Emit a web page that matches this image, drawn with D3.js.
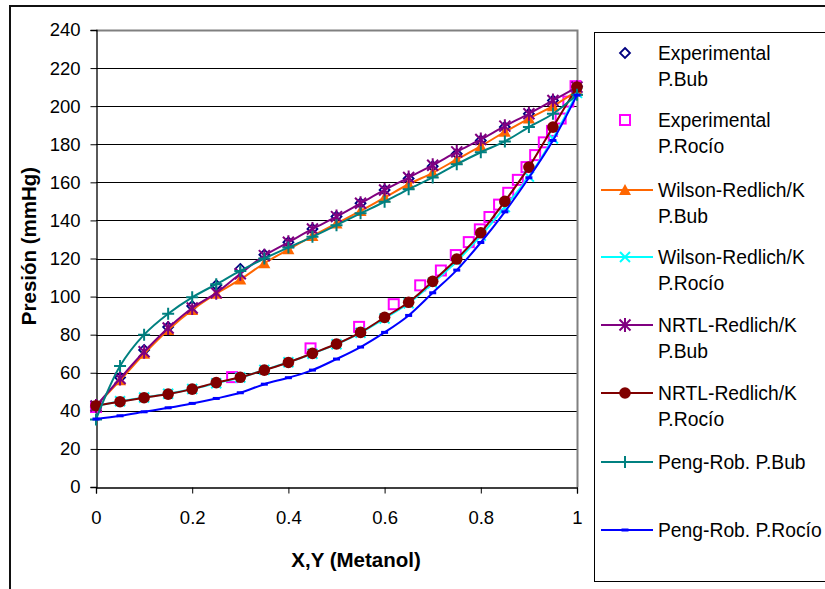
<!DOCTYPE html>
<html><head><meta charset="utf-8">
<script src="https://cdn.jsdelivr.net/npm/d3@7/dist/d3.min.js"></script>
<style>
html,body{margin:0;padding:0;background:#fff;}
svg{display:block;font-family:"Liberation Sans",Arial,sans-serif;}
</style></head><body>
<svg id="c" width="825" height="589"></svg>
<script>
// ---- data ----
const xTicks = [0, 0.2, 0.4, 0.6, 0.8, 1];
const yTicks = [0, 20, 40, 60, 80, 100, 120, 140, 160, 180, 200, 220, 240];
const xComp = [0,0.05,0.1,0.15,0.2,0.25,0.3,0.35,0.4,0.45,0.5,0.55,0.6,0.65,0.7,0.75,0.8,0.85,0.9,0.95,1];

const expBub   = [42,57.5,72,84,95,106,114.5,122,128.5,135.5,142,149,156,162,168.5,175,182,189,196,203,210.5];
const expDewX  = [0,0.283,0.446,0.547,0.619,0.674,0.717,0.748,0.775,0.798,0.818,0.838,0.857,0.877,0.895,0.913,0.931,0.948,0.966,0.982,0.997];
const expDewP  = [42,57.7,72.8,84.1,96,105.9,113.7,121.8,128.6,135.3,141.8,148.3,154.5,161.3,168,174.3,181,187,193.5,202.4,210.5];
const wilBub   = [42.5,56,70,82.5,93,101.5,109,117.5,124.8,131.8,138.4,145,152,159,165,172,179,186.5,193.5,200,208];
const wilDew   = [42.5,45,47,49,51.5,54.5,57.5,61.5,65.5,70,75,81,88.5,96.5,107,118.5,132,147,163,183,207];
const nrtlBub  = [42.5,57,71,83.5,94,102,112,121.5,128.5,135.5,142,149,156,162.5,169,176,182.5,189.5,196,203,210];
const nrtlDew  = [42.7,44.8,46.9,48.8,51.4,54.8,57.6,61.4,65.4,70.2,75.1,81.2,89.1,97,108,119.7,133.5,150,168,189,210];
const pengBub  = [35.5,63.5,80,91,99.6,106.5,113.5,120,125.8,131.4,137.5,143.7,149.8,156.4,162.6,169.5,175.8,181.5,189,196,206];
const pengDew  = [35.7,37.4,39.5,41.6,43.9,46.5,49.5,54,57.4,61.4,67.2,73.5,81.2,90.1,102,113.9,128.4,144.5,162.4,182,205.8];

const seriesNames = ["Experimental\nP.Bub","Experimental\nP.Rocío","Wilson-Redlich/K\nP.Bub","Wilson-Redlich/K\nP.Rocío","NRTL-Redlich/K\nP.Bub","NRTL-Redlich/K\nP.Rocío","Peng-Rob. P.Bub","Peng-Rob. P.Rocío"];

const series = [
  {name: seriesNames[0], xs: xComp,   ys: expBub,  color:"#000080", line:false, marker:"diamond"},
  {name: seriesNames[1], xs: expDewX, ys: expDewP, color:"#FF00FF", line:false, marker:"square"},
  {name: seriesNames[2], xs: xComp,   ys: wilBub,  color:"#FF6600", line:true,  marker:"triangle"},
  {name: seriesNames[3], xs: xComp,   ys: wilDew,  color:"#00FFFF", line:true,  marker:"x"},
  {name: seriesNames[4], xs: xComp,   ys: nrtlBub, color:"#800080", line:true,  marker:"star"},
  {name: seriesNames[5], xs: xComp,   ys: nrtlDew, color:"#800000", line:true,  marker:"circle"},
  {name: seriesNames[6], xs: xComp,   ys: pengBub, color:"#008080", line:true,  marker:"plus"},
  {name: seriesNames[7], xs: xComp,   ys: pengDew, color:"#0000FF", line:true,  marker:"dash"}
];

// ---- layout ----
const svg = d3.select("#c");
const x = d3.scaleLinear().domain([0,1]).range([96,577]);
const y = d3.scaleLinear().domain([0,240]).range([487,30]);

// outer frame
svg.append("rect").attr("x",10).attr("y",6).attr("width",900).attr("height",700)
  .attr("fill","none").attr("stroke","#111").attr("stroke-width",2);

// gridlines
svg.append("g").selectAll("line").data(yTicks.filter(d=>d>0 && d<240)).join("line")
  .attr("x1",x(0)).attr("x2",x(1))
  .attr("y1",d=>Math.round(y(d))+0.5).attr("y2",d=>Math.round(y(d))+0.5)
  .attr("stroke","#000").attr("stroke-width",1);
// plot border (top/right grey)
svg.append("path")
  .attr("d",`M${x(0)},${Math.round(y(240))+0.5}H${Math.round(x(1))+0.5}V${y(0)}`)
  .attr("fill","none").attr("stroke","#808080").attr("stroke-width",2);

// axes
const yAxis = svg.append("g").attr("transform",`translate(${Math.round(x(0))+0.5},0)`)
  .call(d3.axisLeft(y).tickValues(yTicks).tickSize(6).tickPadding(10).tickFormat(d=>String(d)));
const xAxis = svg.append("g").attr("transform",`translate(0,${Math.round(y(0))+0.5})`)
  .call(d3.axisBottom(x).tickValues(xTicks).tickSize(6).tickPadding(17).tickFormat(d=>String(d)));
[yAxis,xAxis].forEach(g=>{
  g.select(".domain").attr("stroke","#000").attr("stroke-width",1.3);
  g.selectAll(".tick line").attr("stroke","#000");
  g.selectAll("text").attr("font-size",18.5).attr("fill","#000")
   .attr("font-family",'"Liberation Sans",Arial,sans-serif');
});

// axis titles
svg.append("text").attr("x",356).attr("y",567).attr("text-anchor","middle")
  .attr("font-size",20.5).attr("font-weight","bold").text("X,Y (Metanol)");
svg.append("text").attr("transform","translate(36,246) rotate(-90)").attr("text-anchor","middle")
  .attr("font-size",20.5).attr("font-weight","bold").text("Presión (mmHg)");

// ---- markers ----
function drawMarker(g, type, color){
  switch(type){
    case "diamond":
      g.append("path").attr("d","M0,-5L5,0L0,5L-5,0Z").attr("fill","none").attr("stroke",color).attr("stroke-width",1.8); break;
    case "square":
      g.append("rect").attr("x",-5).attr("y",-5).attr("width",10).attr("height",10).attr("fill","none").attr("stroke",color).attr("stroke-width",2); break;
    case "triangle":
      g.append("path").attr("d","M0,-6L6,5L-6,5Z").attr("fill",color); break;
    case "x":
      g.append("path").attr("d","M-5,-5L5,5M-5,5L5,-5").attr("stroke",color).attr("stroke-width",2); break;
    case "star":
      g.append("path").attr("d","M-5.5,-5.5L5.5,5.5M-5.5,5.5L5.5,-5.5M0,-7V7").attr("stroke",color).attr("stroke-width",2); break;
    case "circle":
      g.append("circle").attr("r",5.8).attr("fill",color); break;
    case "plus":
      g.append("path").attr("d","M-6,0H6M0,-6V6").attr("stroke",color).attr("stroke-width",2); break;
    case "dash":
      g.append("rect").attr("x",-3.5).attr("y",-1.5).attr("width",7).attr("height",3).attr("fill",color); break;
  }
}

const lineGen = d3.line().curve(d3.curveCatmullRom.alpha(0.5));
const plot = svg.append("g");
series.forEach(s=>{
  const pts = s.xs.map((xv,i)=>[x(xv), y(s.ys[i])]);
  const g = plot.append("g");
  if(s.line){
    g.append("path").attr("d",lineGen(pts)).attr("fill","none").attr("stroke",s.color).attr("stroke-width",2);
  }
  pts.forEach(p=>{
    const m = g.append("g").attr("transform",`translate(${p[0]},${p[1]})`);
    drawMarker(m, s.marker, s.color);
  });
});

// ---- legend ----
svg.append("rect").attr("x",594.5).attr("y",32.5).attr("width",300).attr("height",549)
  .attr("fill","none").attr("stroke","#000").attr("stroke-width",1);
const legY = [53,120,190,257,325,393,462,530];
series.forEach((s,i)=>{
  const g = svg.append("g").attr("transform",`translate(0,${legY[i]})`);
  if(s.line){
    g.append("line").attr("x1",601).attr("x2",653).attr("y1",0).attr("y2",0).attr("stroke",s.color).attr("stroke-width",2);
  }
  const m = g.append("g").attr("transform","translate(625,0)");
  drawMarker(m, s.marker, s.color);
  const t = g.append("text").attr("x",658).attr("y",0).attr("font-size",19.3).attr("fill","#000");
  s.name.split("\n").forEach((ln,k)=>{
    t.append("tspan").attr("x",658).attr("y",k*26).attr("dy","0.36em").text(ln);
  });
});
</script>
</body></html>
